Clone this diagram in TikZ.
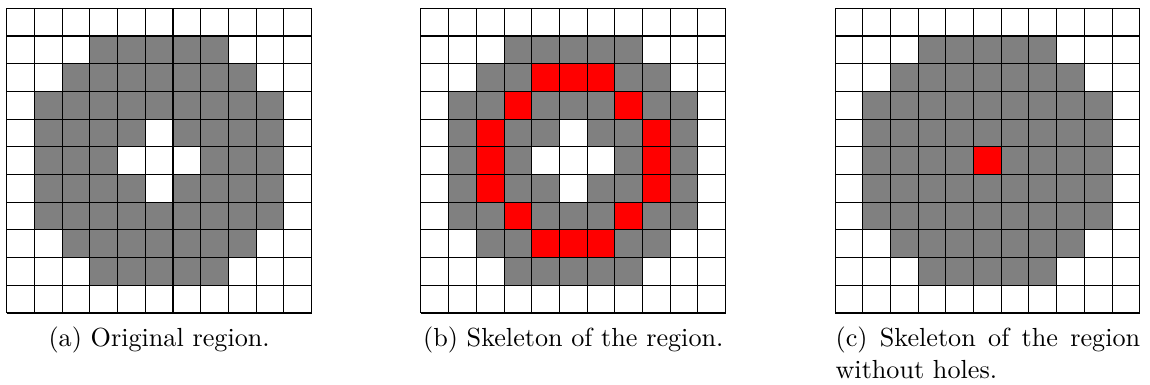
\documentclass[tikz,border=0pt]{standalone}

\tikzset{
  cellgray/.style={fill=gray},
  cellred/.style={fill=red},
  cellhole/.style={fill=white},
  subcap/.style={inner sep=0pt, anchor=base}
}

% gray disk of the region, cells given as column/row (row 0 on top)
\newcommand{\regiondisk}{%
  \foreach \r/\a/\b in {1/3/7, 2/2/8, 3/1/9, 4/1/9, 5/1/9, 6/1/9, 7/1/9, 8/2/8, 9/3/7}
    \foreach \c in {\a,...,\b}
      \fill[cellgray] (\c,10-\r) rectangle ++(1,1);
}
% the hole in the middle
\newcommand{\regionhole}{%
  \foreach \c/\r in {5/4, 4/5, 5/5, 6/5, 5/6}
    \fill[cellhole] (\c,10-\r) rectangle ++(1,1);
}

\begin{document}
\begin{tikzpicture}[x=10.585pt, y=10.585pt]
  \useasboundingbox (-0.245,-2.563) rectangle (41.27,11.30);

  % (a) original region
  \begin{scope}
    \regiondisk
    \regionhole
    \draw[step=1] (0,0) grid (11,11);
  \end{scope}
  \node[subcap] (capa) at (5.5,-1.22) {(a) Original region.};

  % (b) skeleton
  \begin{scope}[shift={(14.95,0)}]
    \regiondisk
    \regionhole
    \foreach \c/\r in {4/2, 5/2, 6/2, 3/3, 7/3, 2/4, 2/5, 2/6,
                       8/4, 8/5, 8/6, 3/7, 7/7, 4/8, 5/8, 6/8}
      \fill[cellred] (\c,10-\r) rectangle ++(1,1);
    \draw[step=1] (0,0) grid (11,11);
  \end{scope}
  \node[subcap] (capb) at (20.45,-1.22) {(b) Skeleton of the region.};

  % (c) skeleton without holes
  \begin{scope}[shift={(29.9,0)}]
    \regiondisk
    \fill[cellred] (5,5) rectangle ++(1,1);
    \draw[step=1] (0,0) grid (11,11);
  \end{scope}
  \node[subcap, anchor=base west, text width=116.4pt, align=justify] (capc)
    at (29.9,-1.22) {(c) Skeleton of the region without holes.};
\end{tikzpicture}
\end{document}
